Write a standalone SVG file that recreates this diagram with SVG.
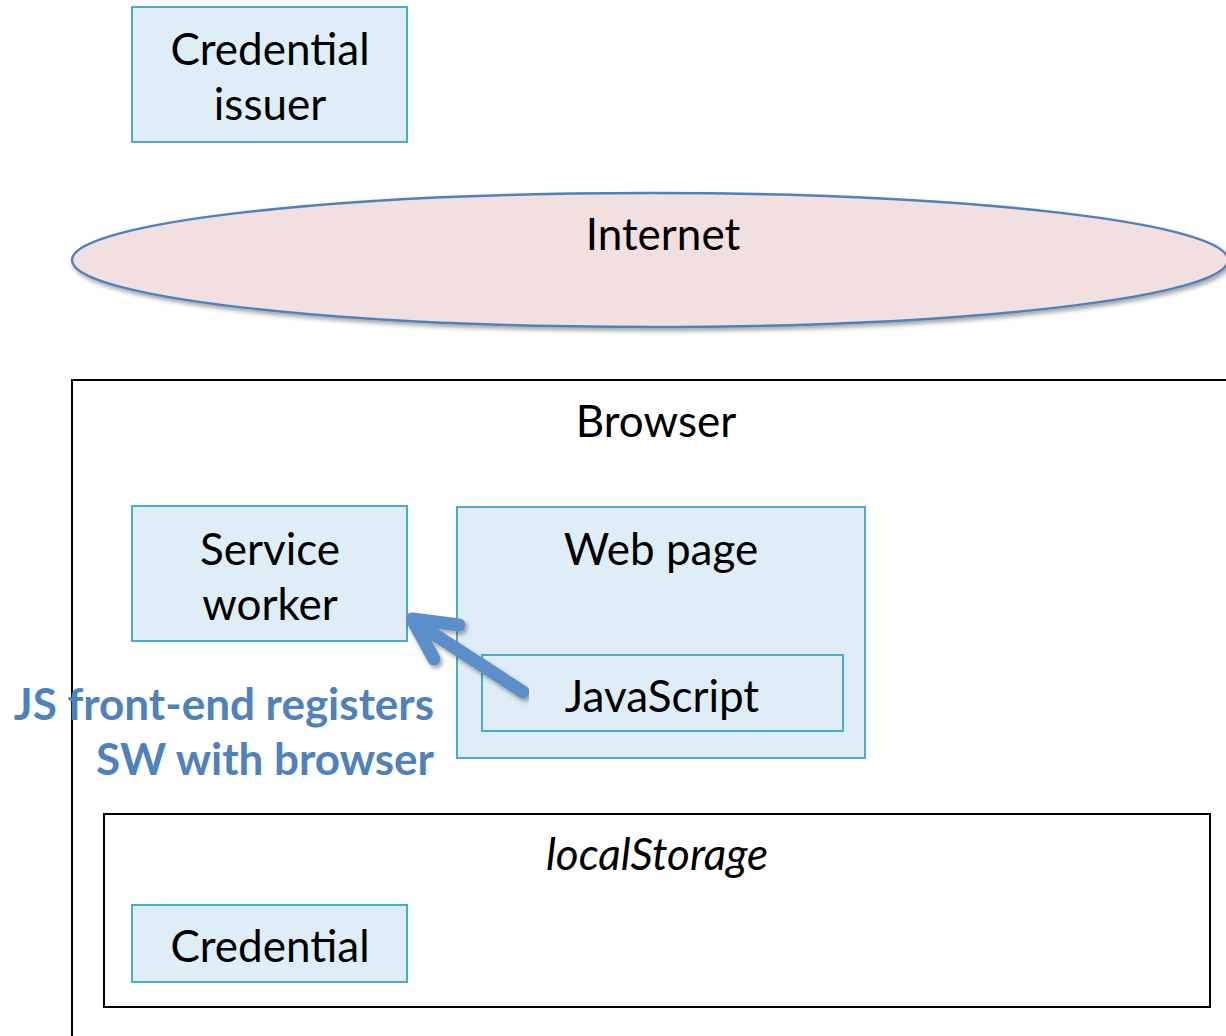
<svg xmlns="http://www.w3.org/2000/svg" width="1226" height="1036" viewBox="0 0 1226 1036">
<defs>
<style>
.t{font-family:Lato,"Open Sans","Liberation Sans",sans-serif;font-size:44px;fill:#000;text-anchor:middle}
.box{fill:#deedf6;stroke:#4bacc6;stroke-width:2}
.frame{fill:none;stroke:#000;stroke-width:2}
.lbl{font-family:Lato,"Open Sans","Liberation Sans",sans-serif;font-size:44px;font-weight:bold;fill:#4f81bd;text-anchor:end}
.arr{fill:none;stroke:#5b8fc9;stroke-width:13;stroke-linecap:round;stroke-linejoin:round}
</style>
<filter id="sh" x="-5%" y="-20%" width="110%" height="140%">
<feDropShadow dx="2" dy="3" stdDeviation="2" flood-color="#000" flood-opacity="0.35"/>
</filter>
</defs>
<rect width="1226" height="1036" fill="#fff"/>
<g id="issuer">
<rect class="box" x="132" y="7" width="275" height="135"/>
<text class="t" x="270" y="65">Credential</text>
<text class="t" x="270" y="120">issuer</text>
</g>
<g id="internet">
<ellipse cx="650" cy="260" rx="578" ry="67" fill="#f2dfdf" stroke="#4f81bd" stroke-width="2.5" filter="url(#sh)"/>
<text class="t" x="663" y="250">Internet</text>
</g>
<g id="browser">
<rect class="frame" x="72" y="380" width="1170" height="670"/>
<text class="t" x="656" y="437">Browser</text>
</g>
<g id="webpage">
<rect class="box" x="457" y="507" width="408" height="251"/>
<text class="t" x="661" y="565">Web page</text>
</g>
<g id="javascript">
<rect class="box" x="482" y="655" width="361" height="76"/>
<text class="t" x="662" y="712">JavaScript</text>
</g>
<g id="serviceworker">
<rect class="box" x="132" y="506" width="275" height="135"/>
<text class="t" x="270" y="565">Service</text>
<text class="t" x="270" y="620">worker</text>
</g>
<g id="localstorage">
<rect class="frame" x="104" y="814" width="1106" height="193"/>
<text class="t" x="657" y="870" font-style="italic">localStorage</text>
</g>
<g id="credential">
<rect class="box" x="132" y="905" width="275" height="77"/>
<text class="t" x="270" y="962">Credential</text>
</g>
<g id="connectors">
<path class="arr" filter="url(#sh)" d="M523 692 L412 620 M459 625 L412 619 L434 659"/>
</g>
<g id="label">
<text class="lbl" x="434" y="720">JS front-end registers</text>
<text class="lbl" x="434" y="775">SW with browser</text>
</g>
</svg>
